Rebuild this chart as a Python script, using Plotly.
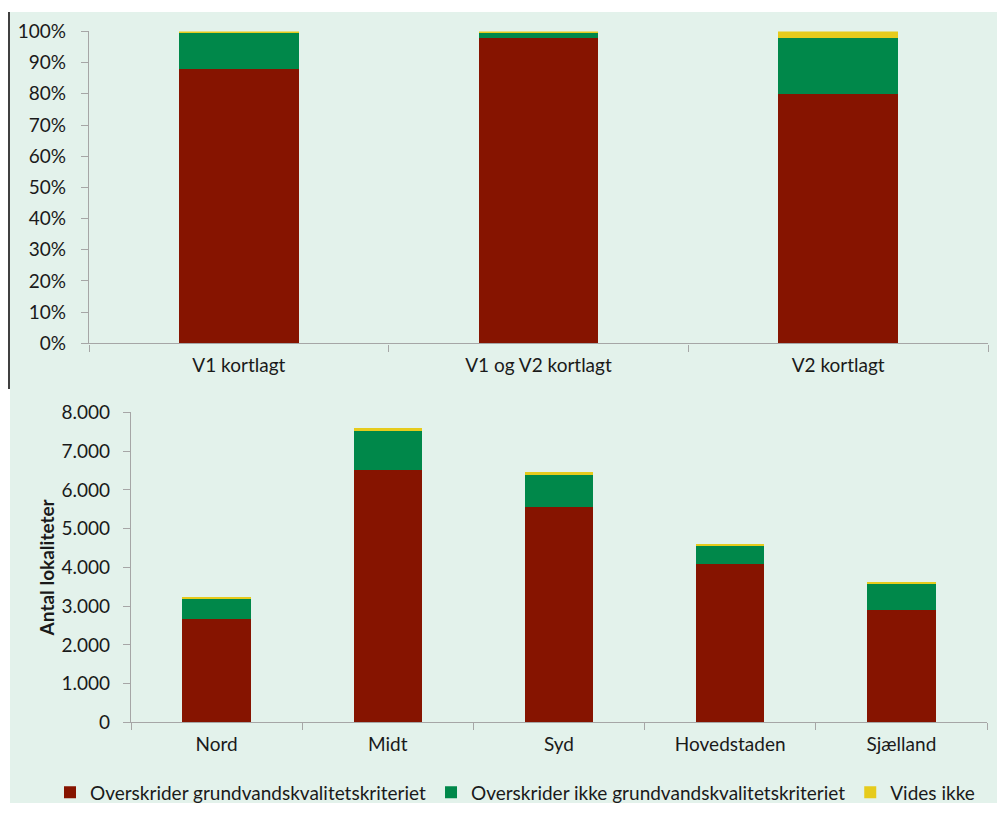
import plotly.graph_objects as go

# ---- data ----
top_categories = ["V1 kortlagt", "V1 og V2 kortlagt", "V2 kortlagt"]
top_exceeds = [0.878, 0.980, 0.801]
top_not_exceeds = [0.118, 0.016, 0.179]
top_unknown = [0.004, 0.004, 0.020]

bottom_categories = ["Nord", "Midt", "Syd", "Hovedstaden", "Sjælland"]
bottom_exceeds = [2670, 6500, 5550, 4090, 2910]
bottom_not_exceeds = [510, 1030, 825, 460, 650]
bottom_unknown = [35, 60, 80, 40, 60]

series_names = [
    "Overskrider grundvandskvalitetskriteriet",
    "Overskrider ikke grundvandskvalitetskriteriet",
    "Vides ikke",
]
colors = ["#861400", "#00884A", "#E6CB1C"]

W, H = 997, 814
FONT = "Lato"
TXT = "#1a1a1a"
AX = "#A6A6A6"
BG = "#E3F2EB"
FS = 19


def px_x(p):
    return p / W


def px_y(p):
    return (H - p) / H


fig = go.Figure()

top_vals = [top_exceeds, top_not_exceeds, top_unknown]
bot_vals = [bottom_exceeds, bottom_not_exceeds, bottom_unknown]

for name, col, vals in zip(series_names, colors, top_vals):
    fig.add_trace(go.Bar(
        x=top_categories, y=vals, name=name, marker_color=col,
        marker_line_width=0, xaxis="x", yaxis="y", showlegend=False,
        legendgroup=name,
    ))

for name, col, vals in zip(series_names, colors, bot_vals):
    fig.add_trace(go.Bar(
        x=bottom_categories, y=vals, name=name, marker_color=col,
        marker_line_width=0, xaxis="x2", yaxis="y2", showlegend=True,
        legendgroup=name,
    ))

axis_common = dict(
    showline=True, linecolor=AX, linewidth=1.3,
    ticks="outside", ticklen=7, tickcolor=AX, tickwidth=1.3,
    showgrid=False, zeroline=False,
    tickfont=dict(family=FONT, size=FS, color=TXT),
)

fig.update_layout(
    width=W, height=H,
    margin=dict(l=0, r=0, t=0, b=0),
    paper_bgcolor="white",
    plot_bgcolor="rgba(0,0,0,0)",
    barmode="stack",
    bargap=0.6,
    separators=",.",
    font=dict(family=FONT, size=FS, color=TXT),
    xaxis=dict(
        domain=[px_x(89), px_x(988)], anchor="y",
        tickson="boundaries", ticklabelstandoff=5, **axis_common,
    ),
    yaxis=dict(
        domain=[px_y(341), px_y(20)], anchor="x",
        range=[0, 1], tickvals=[i / 10 for i in range(11)],
        tickformat=".0%", ticklabelstandoff=11, **axis_common,
    ),
    xaxis2=dict(
        domain=[px_x(131), px_x(987)], anchor="y2",
        tickson="boundaries", ticklabelstandoff=5, **axis_common,
    ),
    yaxis2=dict(
        domain=[px_y(731), px_y(412)], anchor="x2",
        range=[0, 8000], tickvals=list(range(0, 8001, 1000)),
        tickformat=",d", ticklabelstandoff=9,
        title=dict(text="<b>Antal lokaliteter</b>",
                   font=dict(family=FONT, size=FS, color=TXT), standoff=1),
        **axis_common,
    ),
    legend=dict(
        orientation="h", x=px_x(50), xanchor="left",
        y=px_y(803), yanchor="middle",
        font=dict(family=FONT, size=FS, color=TXT),
        bgcolor="rgba(0,0,0,0)", itemwidth=30, traceorder="normal",
    ),
    shapes=[
        dict(type="rect", xref="paper", yref="paper", layer="below",
             x0=px_x(10), x1=1, y0=0, y1=1,
             fillcolor=BG, line_width=0),
        dict(type="line", xref="paper", yref="paper",
             x0=px_x(9), x1=px_x(9), y0=px_y(388), y1=1,
             line=dict(color="black", width=1.5)),
    ],
)

page_js = (
    "var de=document.documentElement;"
    "de.style.margin='0';de.style.overflow='hidden';"
    "de.style.background='linear-gradient(to right, #ffffff 10px, " + BG +
    " 10px) bottom / 100% 50% no-repeat, #ffffff';"
    "document.body.style.margin='0';"
    "document.body.style.overflow='hidden';"
    "var d=document.getElementById('{plot_id}');"
    "d.style.position='fixed';d.style.left='0px';d.style.top='0px';"
)

fig.write_html("out.html", post_script=page_js,
               config={"displayModeBar": False})
